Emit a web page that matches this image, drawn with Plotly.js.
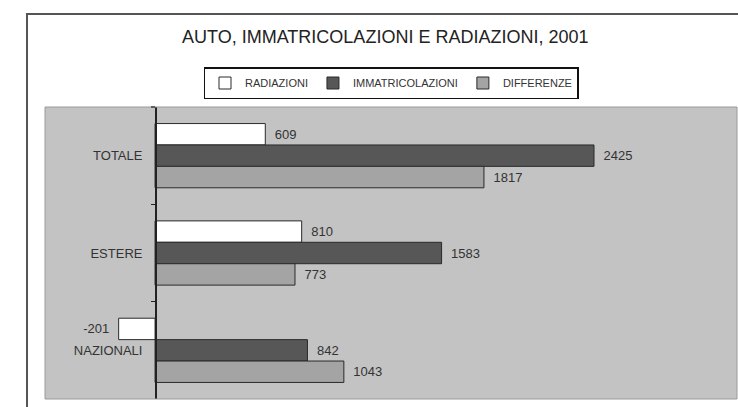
<!DOCTYPE html>
<html>
<head>
<meta charset="utf-8">
<script src="https://cdn.plot.ly/plotly-3.0.1.min.js"></script>
<style>html,body{margin:0;padding:0;background:#fff;}#chart{width:738px;height:407px;}</style>
</head>
<body>
<div id="chart"></div>
<script>
const categories = ['TOTALE', 'ESTERE', 'NAZIONALI'];
const radiazioni = [609, 810, -201];
const immatricolazioni = [2425, 1583, 842];
const differenze = [1817, 773, 1043];
const seriesNames = ['RADIAZIONI', 'IMMATRICOLAZIONI', 'DIFFERENZE'];
const seriesColors = ['#ffffff', '#575757', '#a4a4a4'];
const titleText = 'AUTO, IMMATRICOLAZIONI E RADIAZIONI, 2001';

const xRange = [-608, 3215];
const zeroPos = (0 - xRange[0]) / (xRange[1] - xRange[0]);
const FONT = 'Liberation Sans, Arial, sans-serif';

const seriesValues = [radiazioni, immatricolazioni, differenze];
const traces = seriesValues.map((vals, i) => ({
  type: 'bar',
  orientation: 'h',
  name: seriesNames[i],
  y: categories,
  x: vals,
  text: vals.map(v => v < 0 ? String(v) + '\u2002' : '\u2002' + String(v)),
  textposition: 'outside',
  constraintext: 'none',
  cliponaxis: false,
  textfont: {family: FONT, size: 13, color: '#333'},
  marker: {color: seriesColors[i], line: {color: '#2a2a2a', width: 1}},
  hoverinfo: 'none'
}));

const W = 738, H = 407, ml = 45, mr = 1, mt = 107, mb = 8;
const pw = W - ml - mr, ph = H - mt - mb;

const layout = {
  width: W, height: H,
  margin: {l: ml, r: mr, t: mt, b: mb, pad: 0},
  paper_bgcolor: '#ffffff',
  plot_bgcolor: '#c3c3c3',
  font: {family: FONT, color: '#333'},
  title: {
    text: titleText,
    xref: 'container', x: 0.522, xanchor: 'center',
    yref: 'container', y: 1 - 37 / H, yanchor: 'middle',
    font: {family: FONT, size: 18, color: '#222'}
  },
  barmode: 'group',
  bargap: 0.34,
  bargroupgap: 0,
  showlegend: true,
  legend: {
    orientation: 'h',
    traceorder: 'normal',
    x: 0.5, xanchor: 'center',
    y: (H - mb - 67) / ph, yanchor: 'top',
    bgcolor: '#ffffff',
    bordercolor: '#111',
    borderwidth: 1.5,
    itemwidth: 30,
    font: {family: FONT, size: 11, color: '#333'}
  },
  xaxis: {
    range: xRange,
    showgrid: false, zeroline: false, showticklabels: false, ticks: '', showline: false,
    fixedrange: true
  },
  yaxis: {
    type: 'category',
    autorange: 'reversed',
    anchor: 'free',
    position: zeroPos,
    showline: true, linecolor: '#222', linewidth: 1.5,
    ticks: 'outside', ticklen: 4, tickcolor: '#222', tickwidth: 1.5,
    tickson: 'boundaries',
    ticklabelstandoff: 10,
    showgrid: false, zeroline: false,
    tickfont: {family: FONT, size: 13, color: '#333'},
    fixedrange: true
  },
  shapes: [
    {type: 'rect', xref: 'paper', yref: 'paper', x0: 0, x1: 1, y0: 0, y1: 1,
     line: {color: '#9a9a9a', width: 1}, layer: 'above'},
    {type: 'rect', xref: 'paper', yref: 'paper',
     x0: (27 - ml) / pw, x1: 1.1, y0: -0.2, y1: (H - mb - 14) / ph,
     line: {color: '#555', width: 2}, layer: 'above'}
  ]
};

Plotly.newPlot('chart', traces, layout, {displayModeBar: false, staticPlot: true});
</script>
</body>
</html>
